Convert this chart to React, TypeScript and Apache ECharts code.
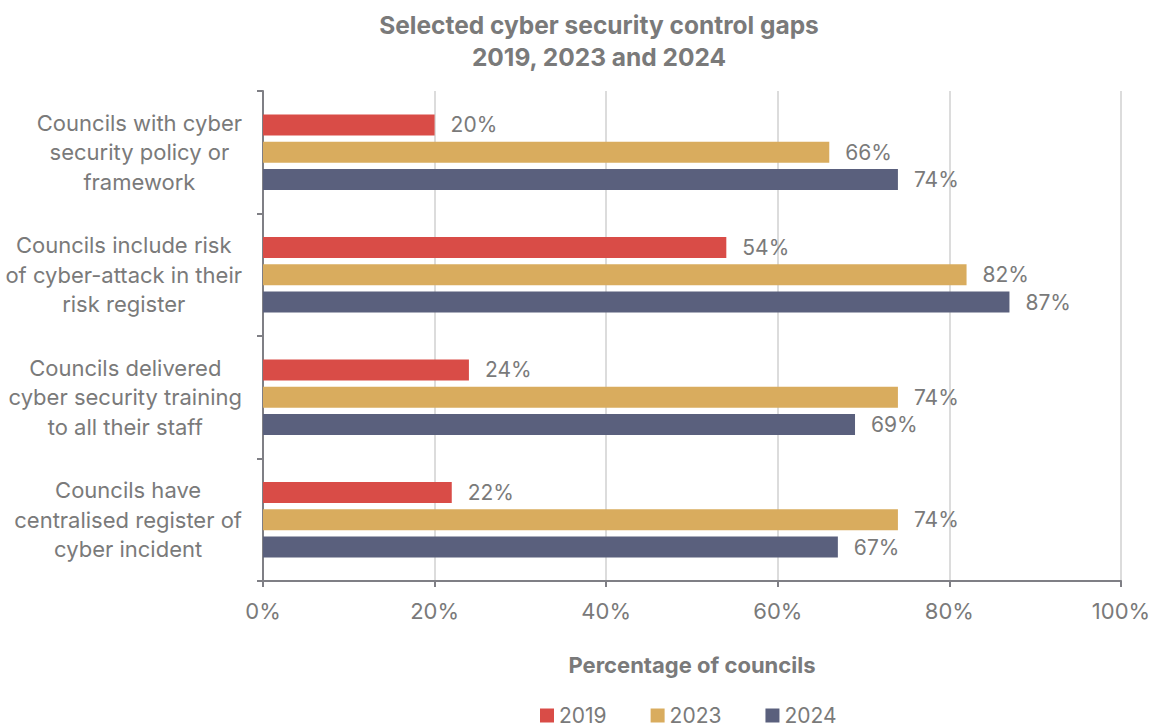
import React, { useEffect, useRef } from "react";
import * as echarts from "echarts";

const categoryLines = [
  ["Councils with cyber", "security policy or", "framework"],
  ["Councils include risk", "of cyber-attack in their", "risk register"],
  ["Councils delivered", "cyber security training", "to all their staff"],
  ["Councils have", "centralised register of", "cyber incident"],
];
const categories = categoryLines.map((l) => l.join("\n"));
const seriesNames = ["2019", "2023", "2024"];
const values2019 = [20, 54, 24, 22];
const values2023 = [66, 82, 74, 74];
const values2024 = [74, 87, 69, 67];
const colors = ["#D94C47", "#D9AC5E", "#5A607D"];
const xTicks = [0, 20, 40, 60, 80, 100];

const FONT = "Inter, 'Noto Sans', sans-serif";
const TEXT = "#7a7a7a";
const CAT_SIZE = 22;

export default function App() {
  const ref = useRef<HTMLDivElement>(null);
  useEffect(() => {
    document.body.style.margin = "0";
    const chart = echarts.init(ref.current!, null, { renderer: "svg" });
    const data = [values2019, values2023, values2024];

    // Excel-like: each label block right-aligned to the axis, lines centred within the block
    const canvas = document.createElement("canvas");
    const ctx = canvas.getContext("2d")!;
    ctx.font = `${CAT_SIZE}px ${FONT}`;
    const rich: Record<string, any> = {};
    categoryLines.forEach((lines, i) => {
      const maxW = Math.max(...lines.map((s) => ctx.measureText(s).width));
      rich["c" + i] = {
        fontSize: CAT_SIZE,
        fontFamily: FONT,
        color: TEXT,
        lineHeight: 29.5,
        padding: [0, maxW, 0, 0],
      };
    });

    chart.setOption({
      animation: false,
      textStyle: { fontFamily: FONT },
      title: {
        text: "Selected cyber security control gaps\n2019, 2023 and 2024",
        left: 594,
        top: 4,
        textAlign: "center",
        textStyle: {
          fontFamily: FONT,
          fontSize: 24.5,
          fontWeight: "bold",
          color: TEXT,
          lineHeight: 32,
        },
      },
      legend: {
        data: seriesNames,
        left: 540,
        top: 705,
        padding: 0,
        itemWidth: 14,
        itemHeight: 14,
        itemGap: 44,
        icon: "rect",
        textStyle: { fontFamily: FONT, fontSize: 21, color: TEXT },
      },
      grid: { left: 263, right: 38, top: 91, bottom: 143 },
      xAxis: {
        type: "value",
        min: 0,
        max: 100,
        interval: 20,
        name: "Percentage of councils",
        nameLocation: "middle",
        nameGap: 73,
        nameTextStyle: {
          fontFamily: FONT,
          fontSize: 22,
          fontWeight: "bold",
          color: TEXT,
        },
        axisLine: { show: true, lineStyle: { color: "#7f7f85", width: 2 } },
        axisTick: { show: true, length: 6, lineStyle: { color: "#7f7f85", width: 2 } },
        axisLabel: {
          margin: 19,
          fontSize: 22,
          color: TEXT,
          fontFamily: FONT,
          formatter: (v: number) => (xTicks.includes(v) ? v + "%" : ""),
        },
        splitLine: { show: true, lineStyle: { color: "#dcdcdc", width: 2 } },
      },
      yAxis: {
        type: "category",
        data: categories,
        inverse: true,
        axisLine: { show: true, lineStyle: { color: "#7f7f85", width: 2 } },
        axisTick: { show: true, length: 6, lineStyle: { color: "#7f7f85", width: 2 } },
        axisLabel: {
          margin: 21,
          align: "center",
          fontSize: CAT_SIZE,
          lineHeight: 29.5,
          color: TEXT,
          fontFamily: FONT,
          rich,
          formatter: (value: string, idx: number) =>
            value
              .split("\n")
              .map((s) => `{c${idx}|${s}}`)
              .join("\n"),
        },
      },
      series: seriesNames.map((name, i) => ({
        name,
        type: "bar",
        data: data[i],
        barWidth: 21,
        barGap: "30%",
        itemStyle: { color: colors[i] },
        label: {
          show: true,
          position: "right",
          distance: 16,
          fontSize: 21,
          color: TEXT,
          fontFamily: FONT,
          formatter: (p: any) => p.value + "%",
        },
      })),
    });
    return () => chart.dispose();
  }, []);
  return <div ref={ref} style={{ width: 1159, height: 724 }} />;
}
